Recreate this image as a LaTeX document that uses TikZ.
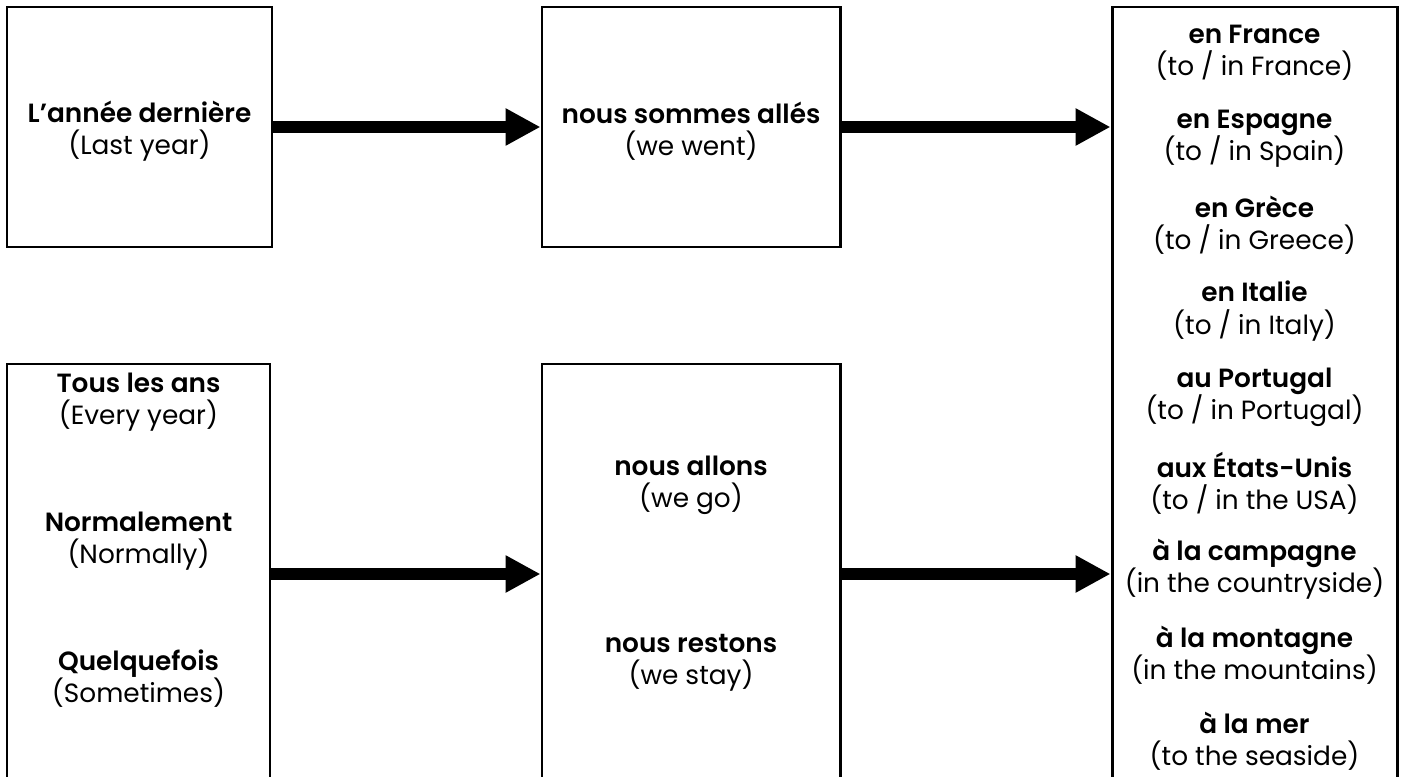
\documentclass[tikz,border=0pt]{standalone}
\usepackage{fontspec}
\setmainfont{Poppins}[BoldFont={Poppins SemiBold}]
\usetikzlibrary{arrows.meta}
\tikzset{
  box/.style={draw, line width=1.7pt, inner sep=0pt, minimum width=#1},
  txt/.style={align=center, font=\fontsize{15pt}{18.3pt}\selectfont},
  bigarrow/.style={line width=6.8pt, -{Triangle[length=0.7cm, width=0.7cm]}},
}
\begin{document}
\begin{tikzpicture}
    \clip (0, 0) rectangle (28.08, 15.52);

    \node[box=5.3cm, minimum height=4.8cm] (last) at (2.79, 12.98) {};
    \node[box=5.96cm, minimum height=4.8cm] (went) at (13.82, 12.98) {};
    \node[box=5.7cm, minimum height=16cm] (places) at (25.09, 7.38) {};
    \node[box=5.26cm, minimum height=8.4cm] (often) at (2.77, 4.04) {};
    \node[box=5.96cm, minimum height=8.4cm] (goes) at (13.82, 4.04) {};

    \node[txt] (t1) at (2.79, 12.90) {\textbf{L’année dernière}\\(Last year)};
    \node[txt] (t2) at (13.82, 12.90) {\textbf{nous sommes allés}\\(we went)};

    \node[txt] (t3) at (2.77, 7.48) {\textbf{Tous les ans}\\(Every year)};
    \node[txt] (t4) at (2.77, 4.70) {\textbf{Normalement}\\(Normally)};
    \node[txt] (t5) at (2.77, 1.95) {\textbf{Quelquefois}\\(Sometimes)};

    \node[txt] (t6) at (13.82, 5.82) {\textbf{nous allons}\\(we go)};
    \node[txt] (t7) at (13.82, 2.26) {\textbf{nous restons}\\(we stay)};

    \node[txt] (p1) at (25.09, 14.46) {\textbf{en France}\\(to / in France)};
    \node[txt] (p2) at (25.09, 12.74) {\textbf{en Espagne}\\(to / in Spain)};
    \node[txt] (p3) at (25.09, 11.02) {\textbf{en Grèce}\\(to / in Greece)};
    \node[txt] (p4) at (25.09, 9.30) {\textbf{en Italie}\\(to / in Italy)};
    \node[txt] (p5) at (25.09, 7.58) {\textbf{au Portugal}\\(to / in Portugal)};
    \node[txt] (p6) at (25.09, 5.86) {\textbf{aux États-Unis}\\(to / in the USA)};
    \node[txt] (p7) at (25.09, 4.14) {\textbf{à la campagne}\\(in the countryside)};
    \node[txt] (p8) at (25.09, 2.42) {\textbf{à la montagne}\\(in the mountains)};
    \node[txt] (p9) at (25.09, 0.70) {\textbf{à la mer}\\(to the seaside)};

    \draw[bigarrow] (last) -- (went);
    \draw[bigarrow] (went) -- (went -| places.west);
    \draw[bigarrow] (often) -- (goes);
    \draw[bigarrow] (goes) -- (goes -| places.west);
\end{tikzpicture}
\end{document}
